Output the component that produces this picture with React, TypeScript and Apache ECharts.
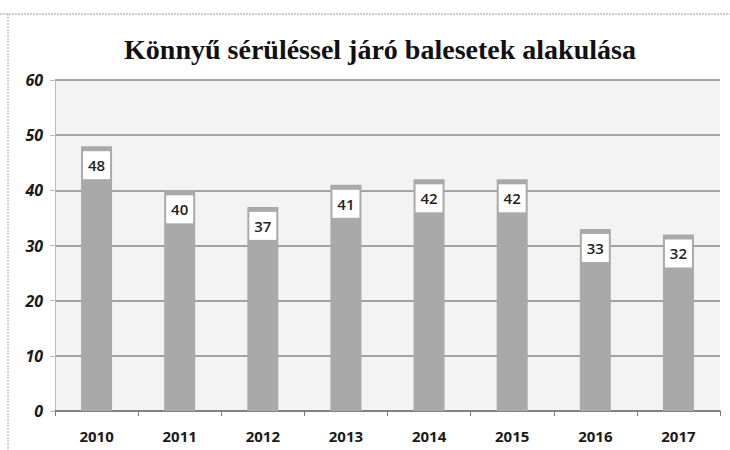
import React, { useEffect, useRef } from "react";
import * as echarts from "echarts";

const categories = ["2010", "2011", "2012", "2013", "2014", "2015", "2016", "2017"];
const values = [48, 40, 37, 41, 42, 42, 33, 32];
const titleText = "Könnyű sérüléssel járó balesetek alakulása";

export default function App() {
  const ref = useRef<HTMLDivElement>(null);
  useEffect(() => {
    if (!ref.current) return;
    const chart = echarts.init(ref.current, null, { renderer: "svg" });
    chart.setOption({
      animation: false,
      backgroundColor: "#ffffff",
      title: {
        text: titleText,
        left: 375,
        textAlign: "center",
        top: 30,
        textStyle: {
          fontFamily: "Liberation Serif",
          fontWeight: "bold",
          fontSize: 28,
          color: "#111",
        },
      },
      graphic: [
        { type: "line", shape: { x1: 0, y1: 14, x2: 730, y2: 14 }, style: { stroke: "#999", lineWidth: 1, lineDash: [2, 1] } },
        { type: "line", shape: { x1: 8, y1: 14, x2: 8, y2: 450 }, style: { stroke: "#aaa", lineWidth: 1, lineDash: [2, 1] } },
      ],
      grid: {
        left: 55,
        right: 10,
        top: 80,
        bottom: 39,
        show: true,
        backgroundColor: "#f3f3f3",
        borderWidth: 0,
      },
      xAxis: {
        type: "category",
        data: categories,
        axisLine: { lineStyle: { color: "#777", width: 1.5 } },
        axisTick: { show: true, alignWithLabel: false, length: 5, lineStyle: { color: "#777" } },
        axisLabel: {
          fontFamily: "Open Sans",
          fontWeight: "bold",
          fontSize: 15,
          color: "#1a1a1a",
          margin: 17,
        },
      },
      yAxis: {
        type: "value",
        min: 0,
        max: 60,
        interval: 10,
        axisLine: { show: true, lineStyle: { color: "#bbb" } },
        axisTick: { show: true, length: 5, lineStyle: { color: "#bbb" } },
        splitLine: { lineStyle: { color: "#888", width: 1.5 } },
        axisLabel: {
          fontFamily: "Open Sans",
          fontWeight: "bold",
          fontStyle: "italic",
          fontSize: 16,
          color: "#1a1a1a",
          margin: 12,
        },
      },
      series: [
        {
          type: "bar",
          data: values,
          barWidth: 31,
          itemStyle: { color: "#a9a9a9" },
          label: {
            show: true,
            position: "insideTop",
            distance: 5,
            backgroundColor: "#ffffff",
            width: 27,
            align: "center",
            padding: [6, 0, 6, 0],
            lineHeight: 16,
            fontFamily: "Open Sans",
            fontWeight: 600,
            fontSize: 15,
            color: "#222",
          },
        },
      ],
    });
    return () => chart.dispose();
  }, []);
  return (
    <div
      ref={ref}
      style={{ position: "fixed", left: 0, top: 0, width: 730, height: 450 }}
    />
  );
}
